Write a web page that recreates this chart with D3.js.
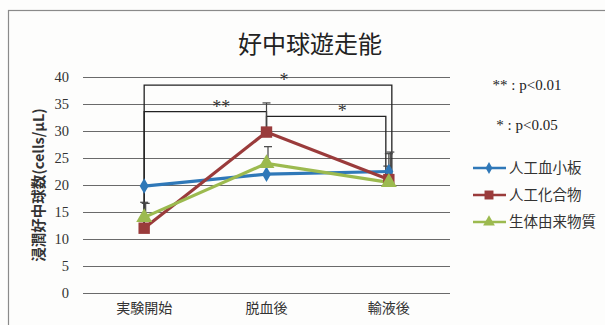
<!DOCTYPE html>
<html>
<head>
<meta charset="utf-8">
<script src="https://cdn.jsdelivr.net/npm/d3@7"></script>
<style>
  body { margin: 0; background: #fff; }
  svg { display: block; }
</style>
</head>
<body>
<div class="chart"></div>
<script>
// data
var categories = ["実験開始", "脱血後", "輸液後"];
var seriesNames = ["人工血小板", "人工化合物", "生体由来物質"];
var plateletVals = [19.8, 22.0, 22.5];
var compoundVals = [12.0, 29.8, 21.0];
var bioVals = [14.0, 24.0, 20.5];
var plateletErr = [0, 0, 1.0];
var compoundErr = [4.8, 5.4, 4.8];
var bioErr = [2.6, 3.1, 5.6];
var yTicks = [0, 5, 10, 15, 20, 25, 30, 35, 40];
// significance brackets: from category, to category, bracket level, drop-to values, label
var bracketFrom = [0, 0, 1];
var bracketTo = [2, 1, 2];
var bracketLevel = [38.5, 33.6, 32.7];
var bracketLowFrom = [12.0, 12.0, 29.8];
var bracketLowTo = [21.0, 29.8, 21.0];
var bracketLabel = ["*", "**", "*"];
var noteLabels = ["** : p<0.01", "* : p<0.05"];

var w = 605;
var h = 325;
var colors = ["#2f78b8", "#9a3b3b", "#9cba4f"];
var values = [plateletVals, compoundVals, bioVals];
var errs = [plateletErr, compoundErr, bioErr];

var svg = d3.select(".chart")
    .append("svg")
    .attr("width", w)
    .attr("height", h);

svg.append("rect")
    .attr("width", w).attr("height", h)
    .attr("fill", "#fdfdfc");

// outer frame (cropped at right and bottom)
svg.append("rect")
    .attr("x", 8.5).attr("y", 10.5)
    .attr("width", 640).attr("height", 340)
    .attr("fill", "none")
    .attr("stroke", "#8a8a8a")
    .attr("stroke-width", 1.2);

var xScale = d3.scaleBand()
    .domain(categories)
    .range([83, 450]);

var yScale = d3.scaleLinear()
    .domain([0, 40])
    .range([293, 77]);

function cx(i) {
    return xScale(categories[i]) + xScale.bandwidth() / 2;
}

// title
svg.append("text")
    .attr("x", 310).attr("y", 53)
    .attr("text-anchor", "middle")
    .attr("font-family", "Noto Sans CJK JP")
    .attr("font-size", "24px")
    .attr("fill", "#222")
    .text("好中球遊走能");

// grid + y axis
var yaxis = d3.axisLeft(yScale)
    .tickValues(yTicks)
    .tickSize(-(450 - 83))
    .tickPadding(14);

var gy = svg.append("g")
    .attr("class", "y axis")
    .attr("transform", "translate(83,0)")
    .call(yaxis);
gy.select(".domain").remove();
gy.selectAll(".tick line")
    .attr("stroke", "#6a6a6a")
    .attr("stroke-width", 1);
gy.selectAll(".tick text")
    .attr("font-family", "Liberation Serif")
    .attr("font-size", "14.5px")
    .attr("fill", "#333");

// x axis labels
var xaxis = d3.axisBottom(xScale).tickSize(0).tickPadding(10);
var gx = svg.append("g")
    .attr("class", "x axis")
    .attr("transform", "translate(0,293)")
    .call(xaxis);
gx.select(".domain").remove();
gx.selectAll(".tick text")
    .attr("font-family", "Noto Sans CJK JP")
    .attr("font-size", "14px")
    .attr("fill", "#333");

// y axis title
svg.append("text")
    .attr("transform", "translate(44,185) rotate(-90)")
    .attr("text-anchor", "middle")
    .attr("font-family", "Noto Sans CJK JP")
    .attr("font-size", "14.5px")
    .attr("font-weight", "bold")
    .attr("fill", "#333")
    .text("浸潤好中球数(cells/μL)");

// significance brackets
var bracketOffset = [3, 0, -3];
bracketFrom.forEach(function(f, k) {
    var x1 = cx(f);
    var x2 = cx(bracketTo[k]) + bracketOffset[k];
    var yl = yScale(bracketLevel[k]);
    svg.append("path")
        .attr("d", "M" + x1 + "," + yScale(bracketLowFrom[k]) +
            "V" + yl + "H" + x2 + "V" + yScale(bracketLowTo[k]))
        .attr("fill", "none")
        .attr("stroke", "#222")
        .attr("stroke-width", 1.3);
    svg.append("text")
        .attr("x", (x1 + x2) / 2 + 16)
        .attr("y", yl + 1)
        .attr("text-anchor", "middle")
        .attr("font-family", "Liberation Serif")
        .attr("font-size", "18px")
        .attr("fill", "#333")
        .text(bracketLabel[k]);
});

// lines
var line = d3.line()
    .x(function(d, i) { return cx(i); })
    .y(function(d) { return yScale(d); });

values.forEach(function(vals, s) {
    svg.append("path")
        .datum(vals)
        .attr("d", line)
        .attr("fill", "none")
        .attr("stroke", colors[s])
        .attr("stroke-width", 3.2);
});

// error bars
values.forEach(function(vals, s) {
    vals.forEach(function(v, i) {
        if (!errs[s][i]) return;
        var x = cx(i) + (s - 1) * 1.5;
        var y0 = yScale(v);
        var y1 = yScale(v + errs[s][i]);
        svg.append("line")
            .attr("x1", x).attr("x2", x)
            .attr("y1", y0).attr("y2", y1)
            .attr("stroke", "#444").attr("stroke-width", 1.2);
        svg.append("line")
            .attr("x1", x - 4).attr("x2", x + 4)
            .attr("y1", y1).attr("y2", y1)
            .attr("stroke", "#444").attr("stroke-width", 1.2);
    });
});

// markers
var symbols = [d3.symbolDiamond, d3.symbolSquare, d3.symbolTriangle];
var symSizes = [70, 130, 110];
values.forEach(function(vals, s) {
    svg.selectAll(".m" + s)
        .data(vals)
        .enter()
        .append("path")
        .attr("class", "m" + s)
        .attr("d", d3.symbol().type(symbols[s]).size(symSizes[s]))
        .attr("transform", function(d, i) {
            return "translate(" + cx(i) + "," + yScale(d) + ")";
        })
        .attr("fill", colors[s]);
});

// p-value notes
noteLabels.forEach(function(t, k) {
    svg.append("text")
        .attr("x", 527).attr("y", 90 + k * 40)
        .attr("text-anchor", "middle")
        .attr("font-family", "Liberation Serif")
        .attr("font-size", "15px")
        .attr("fill", "#222")
        .text(t);
});

// legend
var legSizes = [40, 80, 60];
seriesNames.forEach(function(name, s) {
    var ly = 168 + s * 27;
    svg.append("line")
        .attr("x1", 473).attr("x2", 506)
        .attr("y1", ly).attr("y2", ly)
        .attr("stroke", colors[s]).attr("stroke-width", 2.5);
    svg.append("path")
        .attr("d", d3.symbol().type(symbols[s]).size(legSizes[s]))
        .attr("transform", "translate(489," + ly + ")")
        .attr("fill", colors[s]);
    svg.append("text")
        .attr("x", 509).attr("y", ly + 5)
        .attr("font-family", "Noto Sans CJK JP")
        .attr("font-size", "14.5px")
        .attr("fill", "#333")
        .text(name);
});
</script>
</body>
</html>
